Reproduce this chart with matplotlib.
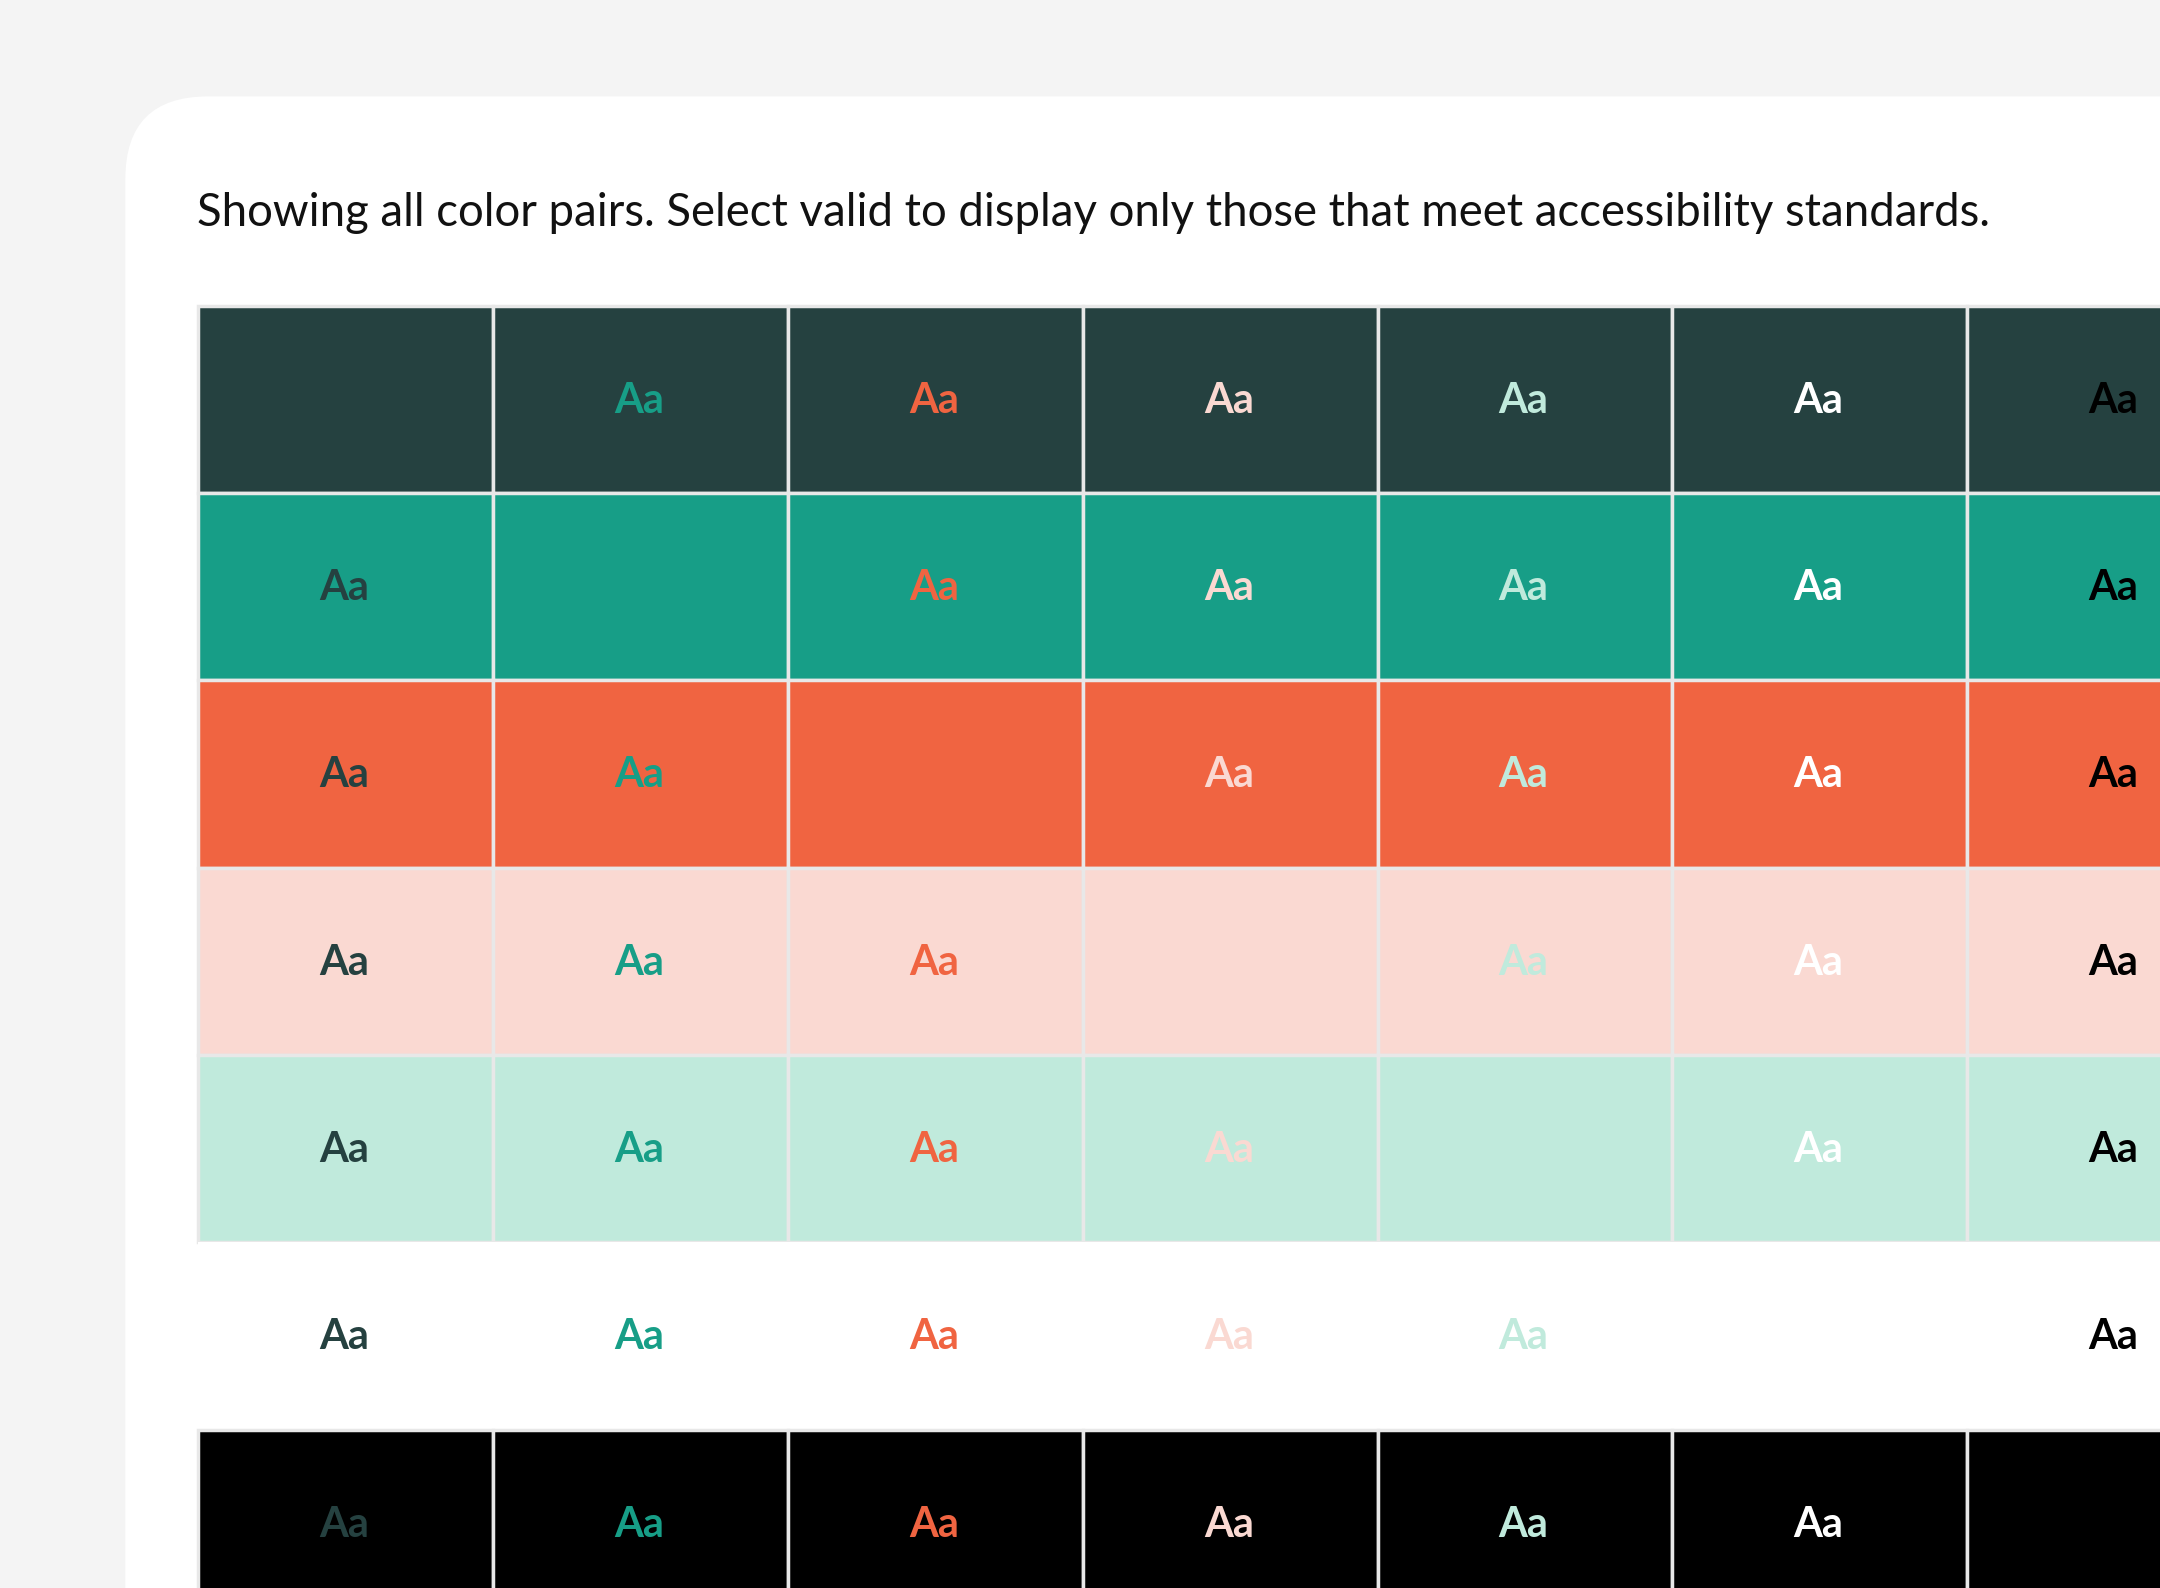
import matplotlib
matplotlib.use("Agg")
import matplotlib.pyplot as plt
from matplotlib.patches import FancyBboxPatch, Rectangle

palette_names = ["dark", "teal", "orange", "pink", "mint", "white", "black"]
palette = ["#254140", "#179E87", "#F06441", "#FAD9D2", "#C0EADC", "#FFFFFF", "#000000"]
sample_label = "Aa"
heading = "Showing all color pairs. Select valid to display only those that meet accessibility standards."

W, H = 1568, 1153
fig = plt.figure(figsize=(21.6, 15.88), dpi=100)
fig.patch.set_facecolor("#f4f4f4")
ax = fig.add_axes([0, 0, 1, 1])
ax.set_xlim(0, W); ax.set_ylim(H, 0); ax.axis("off")

ax.add_patch(FancyBboxPatch((91, 70), 1700, 1300, boxstyle="round,pad=0,rounding_size=60",
                            fc="white", ec="none"))

ax.text(143, 155, heading, fontsize=32.8, family="Lato", color="#111111",
        va="center", ha="left")

x0, y0, cw, rh = 144, 222, 214, 136
for i, bg in enumerate(palette):
    for j, fgc in enumerate(palette):
        x = x0 + j * cw
        y = y0 + i * rh
        border = "none" if bg == "#FFFFFF" else "#e8e8e8"
        ax.add_patch(Rectangle((x, y), cw, rh, fc=bg, ec=border, lw=2.5))
        if i != j:
            ax.text(x + cw / 2 - 1, y + rh / 2 + 1, sample_label, fontsize=30,
                    family="Lato", fontweight="bold", color=fgc,
                    ha="center", va="center")

fig.savefig("out.png", dpi=100, facecolor=fig.get_facecolor())
